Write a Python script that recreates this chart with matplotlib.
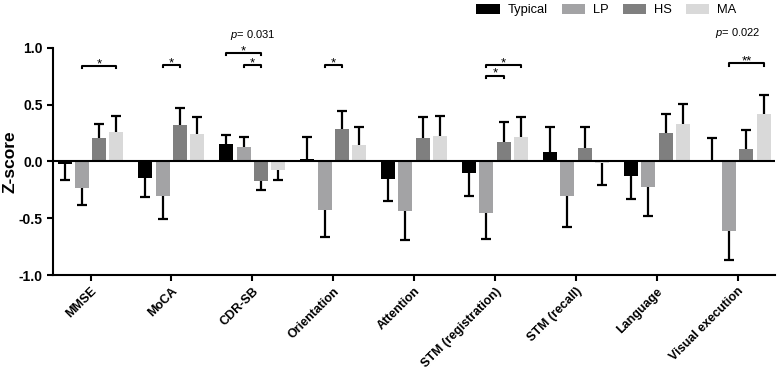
import numpy as np
import matplotlib
matplotlib.use("Agg")
import matplotlib.pyplot as plt
from matplotlib.patches import Patch

plt.rcParams['font.family'] = ['Liberation Sans', 'DejaVu Sans']
plt.rcParams['mathtext.fontset'] = 'custom'
plt.rcParams['mathtext.it'] = 'Liberation Sans:italic'
plt.rcParams['mathtext.rm'] = 'Liberation Sans'

# --- Data ---
categories = ["MMSE", "MoCA", "CDR-SB", "Orientation", "Attention",
              "STM (registration)", "STM (recall)", "Language", "Visual execution"]
groups = ["Typical", "LP", "HS", "MA"]
colors = ["#000000", "#a3a3a5", "#7f7f7f", "#d9d9d9"]

typical = [-0.023, -0.146, 0.156, 0.026, -0.152, -0.103, 0.083, -0.132, 0.002]
lp = [-0.23, -0.308, 0.13, -0.425, -0.434, -0.455, -0.308, -0.226, -0.61]
hs = [0.206, 0.32, -0.176, 0.282, 0.211, 0.176, 0.121, 0.25, 0.106]
ma = [0.264, 0.238, -0.079, 0.141, 0.224, 0.215, -0.01, 0.332, 0.417]

typical_err = [0.137, 0.171, 0.079, 0.191, 0.20, 0.205, 0.22, 0.20, 0.209]
lp_err = [0.15, 0.20, 0.09, 0.241, 0.256, 0.225, 0.272, 0.252, 0.256]
hs_err = [0.124, 0.147, 0.074, 0.164, 0.177, 0.176, 0.185, 0.17, 0.173]
ma_err = [0.136, 0.158, 0.081, 0.167, 0.179, 0.179, 0.195, 0.174, 0.173]

# significance brackets: (category index, group a, group b, level, label)
brackets = [
    (0, 1, 3, 0.84, "*"),
    (1, 1, 2, 0.85, "*"),
    (2, 0, 2, 0.955, "*"),
    (2, 1, 2, 0.85, "*"),
    (3, 1, 2, 0.85, "*"),
    (5, 1, 3, 0.85, "*"),
    (5, 1, 2, 0.755, "*"),
    (8, 1, 3, 0.865, "**"),
]
p_notes = [(2, 1.115, "$p$= 0.031"), (8, 1.13, "$p$= 0.022")]

values = [typical, lp, hs, ma]
errors = [typical_err, lp_err, hs_err, ma_err]

# --- Plot ---
fig = plt.figure(figsize=(7.77, 3.69), dpi=100)
ax = fig.add_axes([0.0686, 0.2547, 0.9288, 0.6153])

x = np.arange(len(categories))
step = 0.214
width = 0.173

for i, (vals, errs, col) in enumerate(zip(values, errors, colors)):
    xs = x + (i - 1.5) * step
    vals = np.array(vals)
    errs = np.array(errs)
    ax.bar(xs, vals, width=width, color=col, zorder=2)
    sign = np.where(vals >= 0, 1, -1)
    tips = vals + sign * errs
    ax.vlines(xs, vals, tips, color='black', lw=1.6, zorder=3)
    ax.plot(xs, tips, ls='none', marker='_', ms=7, mew=1.6, color='black', zorder=3)

ax.axhline(0, color='black', lw=1.5, zorder=4)

for cat, a, b, lvl, lab in brackets:
    x1 = cat + (a - 1.5) * step
    x2 = cat + (b - 1.5) * step
    d = 0.02
    ax.plot([x1, x1, x2, x2], [lvl - d, lvl, lvl, lvl - d], color='black', lw=1.5, clip_on=False)
    ax.text((x1 + x2) / 2, lvl - 0.035, lab, ha='center', va='bottom', fontsize=9.5)

for cat, lvl, txt in p_notes:
    ax.text(cat, lvl, txt, ha='center', va='center', fontsize=8, clip_on=False)

ax.set_xlim(-0.46, len(categories) - 1 + 0.46)
ax.set_ylim(-1.0, 1.0)
ax.set_yticks([-1.0, -0.5, 0.0, 0.5, 1.0])
ax.set_yticklabels(["-1.0", "-0.5", "0.0", "0.5", "1.0"], fontweight='bold', fontsize=10)
ax.set_xticks(x)
ax.set_xticklabels(categories, rotation=45, ha='right', rotation_mode='anchor',
                   fontweight='bold', fontsize=9)
ax.set_ylabel("Z-score", fontweight='bold', fontsize=12.5)
ax.yaxis.set_label_coords(-0.05, 0.5)

for s in ['top', 'right']:
    ax.spines[s].set_visible(False)
for s in ['left', 'bottom']:
    ax.spines[s].set_linewidth(1.5)
ax.tick_params(width=1.5, length=4, direction='out')

handles = [Patch(facecolor=c, label=g) for g, c in zip(groups, colors)]
fig.legend(handles=handles, loc='upper right', bbox_to_anchor=(0.962, 1.02), ncol=4,
           frameon=False, fontsize=9.3, handlelength=1.8, handleheight=0.75,
           handletextpad=0.6, columnspacing=1.1)

fig.savefig("out.png", dpi=100)
